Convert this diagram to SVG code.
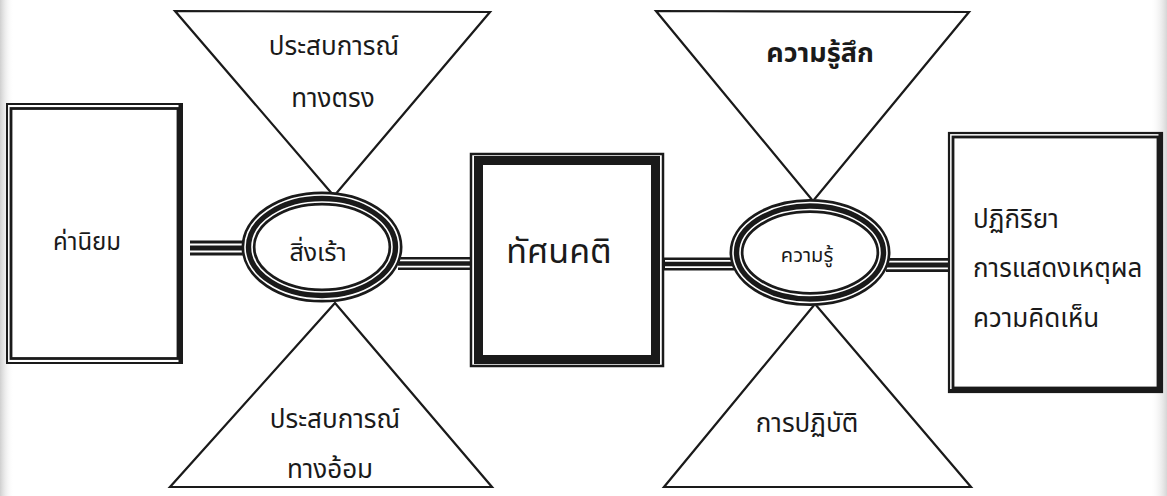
<svg xmlns="http://www.w3.org/2000/svg" width="1167" height="496" viewBox="0 0 1167 496">
<defs>
<linearGradient id="edgeL" x1="0" x2="1" y1="0" y2="0"><stop offset="0" stop-color="#cfcfcf"/><stop offset="1" stop-color="#ffffff" stop-opacity="0"/></linearGradient>
<linearGradient id="edgeR" x1="1" x2="0" y1="0" y2="0"><stop offset="0" stop-color="#d6d6d6"/><stop offset="1" stop-color="#ffffff" stop-opacity="0"/></linearGradient>
</defs>
<style>
.t{font-family:"Noto Sans Thai","Noto Sans","DejaVu Sans",sans-serif;fill:#1a1a1a;text-anchor:middle}
.tl{text-anchor:start}
.tri{fill:none;stroke:#1a1a1a;stroke-width:2.2;stroke-linejoin:miter}
.bk{stroke:#1a1a1a;fill:none}
.wh{stroke:#ffffff;fill:none}
</style>
<rect width="1167" height="496" fill="#ffffff"/>
<rect x="0" y="0" width="14" height="496" fill="url(#edgeL)"/>
<rect x="1150" y="0" width="17" height="496" fill="url(#edgeR)"/>

<g id="connectors">
<line class="bk" x1="190" y1="248" x2="246" y2="248" stroke-width="15"/>
<line class="wh" x1="188" y1="244.5" x2="246" y2="244.5" stroke-width="1.8"/>
<line class="wh" x1="188" y1="251.5" x2="246" y2="251.5" stroke-width="1.8"/>
<line class="bk" x1="398" y1="263.5" x2="472" y2="263.5" stroke-width="13"/>
<line class="wh" x1="398" y1="260.3" x2="471" y2="260.3" stroke-width="1.8"/>
<line class="wh" x1="398" y1="266.7" x2="471" y2="266.7" stroke-width="1.8"/>
<line class="bk" x1="663" y1="264" x2="734" y2="264" stroke-width="13"/>
<line class="wh" x1="665" y1="260.8" x2="734" y2="260.8" stroke-width="1.8"/>
<line class="wh" x1="665" y1="267.2" x2="734" y2="267.2" stroke-width="1.8"/>
<line class="bk" x1="886" y1="265" x2="950" y2="265" stroke-width="14"/>
<line class="wh" x1="886" y1="261.6" x2="949" y2="261.6" stroke-width="1.8"/>
<line class="wh" x1="886" y1="268.4" x2="949" y2="268.4" stroke-width="1.8"/>
</g>

<g id="tri-direct">
<polygon class="tri" points="175,11 490,12 334,196"/>
<text class="t" x="334" y="55" font-size="26">ประสบการณ์</text>
<text class="t" x="333" y="107" font-size="26">ทางตรง</text>
</g>
<g id="tri-indirect">
<polygon class="tri" points="335,303 492,487 170,487"/>
<text class="t" x="335" y="428" font-size="26">ประสบการณ์</text>
<text class="t" x="330" y="478" font-size="26">ทางอ้อม</text>
</g>
<g id="tri-feeling">
<polygon class="tri" points="656,11 969,12 813,201"/>
<text class="t" x="820" y="62" font-size="27" font-weight="bold">ความรู้สึก</text>
</g>
<g id="tri-practice">
<polygon class="tri" points="815,304 971,487 664,487"/>
<text class="t" x="807" y="432" font-size="26">การปฏิบัติ</text>
</g>

<g id="values">
<rect x="7" y="104" width="175" height="259" fill="#ffffff" class="bk" stroke-width="2"/>
<rect x="11" y="108.5" width="167" height="250" class="bk" stroke-width="2.8"/>
<line class="bk" x1="180.5" y1="104" x2="180.5" y2="364" stroke-width="4"/>
<text class="t" x="87" y="250" font-size="24">ค่านิยม</text>
</g>

<g id="stimulus">
<ellipse cx="322" cy="247" rx="80" ry="55" fill="#ffffff"/>
<ellipse class="bk" cx="322" cy="247" rx="73.5" ry="48.5" stroke-width="14"/>
<ellipse class="wh" cx="322" cy="247" rx="77" ry="52" stroke-width="1.6"/>
<ellipse class="wh" cx="322" cy="247" rx="70" ry="45" stroke-width="1.6"/>
<text class="t" x="318" y="261" font-size="25">สิ่งเร้า</text>
</g>

<g id="attitude">
<rect x="471" y="154" width="192" height="212" fill="#ffffff" class="bk" stroke-width="2.5"/>
<rect x="478.5" y="160.5" width="177" height="199" class="bk" stroke-width="9"/>
<text class="t" x="559" y="263" font-size="34">ทัศนคติ</text>
</g>

<g id="knowledge">
<ellipse cx="810" cy="252.5" rx="80" ry="53" fill="#ffffff"/>
<ellipse class="bk" cx="810" cy="252.5" rx="73.5" ry="46.5" stroke-width="14"/>
<ellipse class="wh" cx="810" cy="252.5" rx="77" ry="50" stroke-width="1.6"/>
<ellipse class="wh" cx="810" cy="252.5" rx="70" ry="43" stroke-width="1.6"/>
<text class="t" x="807" y="262" font-size="20">ความรู้</text>
</g>

<g id="reaction">
<rect x="949" y="133" width="213" height="259" fill="#ffffff" class="bk" stroke-width="2.2"/>
<rect x="953" y="137" width="205" height="251" class="bk" stroke-width="2.8"/>
<line class="bk" x1="1160" y1="133" x2="1160" y2="393" stroke-width="3"/>
<line class="bk" x1="949" y1="390.5" x2="1162" y2="390.5" stroke-width="3"/>
<text class="t tl" x="973" y="228" font-size="26">ปฏิกิริยา</text>
<text class="t tl" x="973" y="277" font-size="26">การแสดงเหตุผล</text>
<text class="t tl" x="973" y="327" font-size="26">ความคิดเห็น</text>
</g>
</svg>
